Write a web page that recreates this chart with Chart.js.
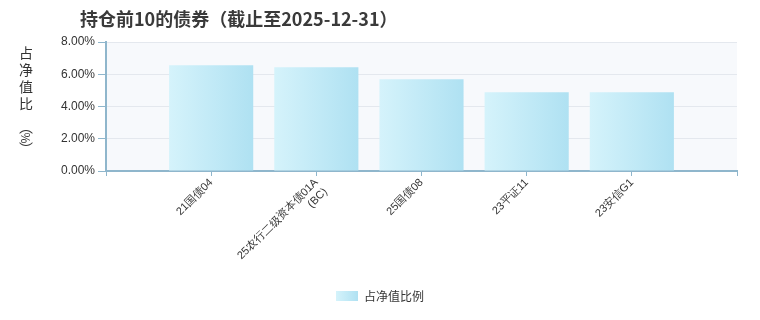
<!DOCTYPE html>
<html>
<head>
<meta charset="utf-8">
<script src="https://cdn.jsdelivr.net/npm/chart.js@4/dist/chart.umd.min.js"></script>
<style>
  html, body { margin: 0; padding: 0; background: #fff; }
  #wrap { width: 760px; height: 320px; position: relative; }
</style>
</head>
<body>
<div id="wrap"><canvas id="chart" width="760" height="320"></canvas></div>
<script>
  // bond names and % of net asset value
  var BONDS = ['21国债04', ['25农行二级资本债01A', '(BC)'], '25国债08', '23平证11', '23安信G1'];
  var RATIOS = [6.56, 6.44, 5.69, 4.88, 4.88];
  var Y_TICKS = [0, 2, 4, 6, 8];
  var TITLE = '持仓前10的债券（截止至2025-12-31）';
  var Y_TITLE = ['占', '净', '值', '比', '︵', '%', '︶'];
  var SERIES_NAME = '占净值比例';

  var AXIS = '#8fb6cc';
  var GRID = '#e4e8ee';
  var TEXT = '#333333';
  var FONT = '"Liberation Sans", Arial, sans-serif';

  // empty slot on each side so the bars sit where the reference puts them
  var labels = [''].concat(BONDS, ['']);
  var values = [null].concat(RATIOS, [null]);

  function barGradient(c) {
    var chart = c.chart;
    var xs = chart.scales.x;
    if (!xs || c.dataIndex == null) return '#c3eaf6';
    var cx = xs.getPixelForValue(c.dataIndex);
    var step = xs.getPixelForValue(1) - xs.getPixelForValue(0);
    if (!isFinite(cx) || !isFinite(step) || step <= 0) return '#c3eaf6';
    var half = step * 0.4;
    var g = chart.ctx.createLinearGradient(cx - half, 0, cx + half, 0);
    g.addColorStop(0, '#d5f3fb');
    g.addColorStop(1, '#afe1f2');
    return g;
  }

  // small gradient swatch for the legend
  var swatch = document.createElement('canvas');
  swatch.width = 22; swatch.height = 10;
  (function () {
    var sctx = swatch.getContext('2d');
    var g = sctx.createLinearGradient(0, 0, 22, 0);
    g.addColorStop(0, '#d5f3fb');
    g.addColorStop(1, '#afe1f2');
    sctx.fillStyle = g;
    sctx.fillRect(0, 0, 22, 10);
  })();

  var decor = {
    id: 'decor',
    beforeDraw: function (chart) {
      var a = chart.chartArea, ctx = chart.ctx;
      ctx.save();
      ctx.fillStyle = '#f7f9fc';
      ctx.fillRect(a.left, a.top, a.right - a.left, a.bottom - a.top);
      ctx.restore();
    },
    afterDraw: function (chart) {
      var ctx = chart.ctx;
      ctx.save();
      // title
      ctx.fillStyle = '#3a3a3a';
      ctx.font = 'bold 18px "Noto Sans CJK SC", sans-serif';
      ctx.textAlign = 'left';
      ctx.textBaseline = 'middle';
      ctx.fillText(TITLE, 80, 19);
      // vertical y-axis title
      ctx.fillStyle = TEXT;
      ctx.font = '14px "Noto Sans CJK SC", sans-serif';
      ctx.textAlign = 'center';
      var y = 53;
      Y_TITLE.forEach(function (ch, i) {
        if (ch === '%') {
          ctx.save();
          ctx.translate(26, y);
          ctx.rotate(Math.PI / 2);
          ctx.font = '12px "Noto Sans CJK SC", sans-serif';
          ctx.fillText(ch, 0, 0);
          ctx.restore();
          y += 11;
        } else if (i >= 4) {
          ctx.fillText(ch, 26, y);
          y += 11;
        } else {
          ctx.fillText(ch, 26, y);
          y += 17;
          if (i === 3) y += 6;
        }
      });
      ctx.restore();
    }
  };

  new Chart(document.getElementById('chart'), {
    type: 'bar',
    data: {
      labels: labels,
      datasets: [{
        label: SERIES_NAME,
        data: values,
        backgroundColor: barGradient,
        barPercentage: 0.8,
        categoryPercentage: 1
      }]
    },
    options: {
      responsive: false,
      animation: false,
      devicePixelRatio: 1,
      layout: { padding: { left: 23, right: 23, top: 42, bottom: 8 } },
      plugins: {
        title: { display: false },
        tooltip: { enabled: false },
        legend: {
          position: 'bottom',
          labels: {
            usePointStyle: true,
            pointStyle: swatch,
            pointStyleWidth: 22,
            color: TEXT,
            font: { family: '"Noto Sans CJK SC", sans-serif', size: 12 },
            padding: 8
          }
        }
      },
      scales: {
        x: {
          offset: false,
          border: { color: AXIS, width: 2 },
          grid: { offset: false, drawOnChartArea: false, drawTicks: true, tickLength: 5, tickColor: AXIS },
          ticks: {
            autoSkip: false,
            maxRotation: 45,
            minRotation: 45,
            padding: 0,
            color: TEXT,
            font: { family: FONT, size: 11 }
          },
          afterFit: function (s) { s.height = 111; }
        },
        y: {
          min: 0,
          max: 8,
          border: { color: AXIS, width: 2 },
          grid: { color: GRID, lineWidth: 1, tickLength: 8, tickColor: AXIS },
          afterBuildTicks: function (s) { s.ticks = Y_TICKS.map(function (v) { return { value: v }; }); },
          ticks: {
            padding: 3,
            color: TEXT,
            font: { family: FONT, size: 12 },
            callback: function (v) { return v.toFixed(2) + '%'; }
          },
          afterFit: function (s) { s.width = 83; }
        }
      }
    },
    plugins: [decor]
  });
</script>
</body>
</html>
